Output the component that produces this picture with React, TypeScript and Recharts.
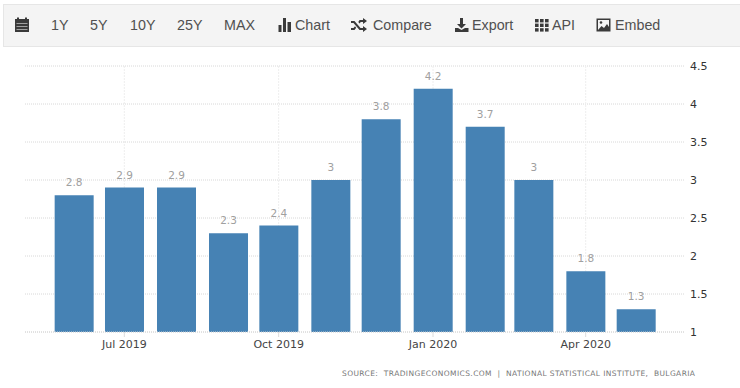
import { Bar, BarChart, CartesianGrid, LabelList, XAxis, YAxis } from "recharts";

const MONTHS = [
  "2019-06-01",
  "2019-07-01",
  "2019-08-01",
  "2019-09-01",
  "2019-10-01",
  "2019-11-01",
  "2019-12-01",
  "2020-01-01",
  "2020-02-01",
  "2020-03-01",
  "2020-04-01",
  "2020-05-01",
];
const VALUES = [2.8, 2.9, 2.9, 2.3, 2.4, 3, 3.8, 4.2, 3.7, 3, 1.8, 1.3];
const X_TICKS = ["2019-07-01", "2019-10-01", "2020-01-01", "2020-04-01"];
const X_TICK_LABELS = ["Jul 2019", "Oct 2019", "Jan 2020", "Apr 2020"];
const Y_TICKS = [1, 1.5, 2, 2.5, 3, 3.5, 4, 4.5];
const RANGES = ["1Y", "5Y", "10Y", "25Y", "MAX"];
const RANGE_LEFTS = [51, 90, 130, 177, 224];
const SOURCE = "SOURCE:  TRADINGECONOMICS.COM  |  NATIONAL STATISTICAL INSTITUTE,  BULGARIA";

const DAY = 86400000;
const toTime = (d: string) => new Date(d + "T00:00:00Z").getTime();
const chartData = MONTHS.map((m, i) => ({ time: toTime(m), value: VALUES[i] }));
const xTicks = X_TICKS.map(toTime);
const xDomain = [toTime(MONTHS[0]) - 29.2 * DAY, toTime(MONTHS[MONTHS.length - 1]) + 29.2 * DAY];

const BLUE = "#4682b4";
const ICON = "#3a3a3a";

function ToolbarItem({ left, children }: { left: number; children: React.ReactNode }) {
  return <span style={{ position: "absolute", left, top: 17 }}>{children}</span>;
}

function Icon({ left, children }: { left: number; children: React.ReactNode }) {
  return (
    <svg
      width={16}
      height={16}
      viewBox="0 0 16 16"
      style={{ position: "absolute", left, top: 17 }}
      fill={ICON}
    >
      {children}
    </svg>
  );
}

function Toolbar() {
  return (
    <div
      style={{
        position: "absolute",
        left: 3,
        top: 4,
        width: 737,
        height: 43,
        boxSizing: "border-box",
        background: "#f4f4f4",
        borderTop: "1px solid #e6e6e6",
        borderBottom: "1px solid #e6e6e6",
        borderLeft: "1px solid #e6e6e6",
        color: "#505050",
        fontFamily: "'Liberation Sans', Arial, sans-serif",
        fontSize: 14.3,
        lineHeight: "17px",
      }}
    >
      <div style={{ position: "absolute", left: -4, top: -5, width: 740, height: 46 }}>
        <Icon left={14}>
          <rect x="1" y="2" width="14" height="13" />
          <rect x="3" y="0.5" width="2" height="3" />
          <rect x="11" y="0.5" width="2" height="3" />
          <rect x="2.5" y="6" width="11" height="0.8" fill="#bbb" />
          <rect x="2.5" y="9" width="11" height="0.8" fill="#bbb" />
          <rect x="2.5" y="12" width="11" height="0.8" fill="#bbb" />
        </Icon>
        {RANGES.map((r, i) => (
          <ToolbarItem key={r} left={RANGE_LEFTS[i]}>
            {r}
          </ToolbarItem>
        ))}
        <Icon left={278}>
          <rect x="0.5" y="8" width="3" height="7" />
          <rect x="5" y="1" width="3" height="14" />
          <rect x="9.5" y="5" width="3.5" height="10" />
        </Icon>
        <ToolbarItem left={295}>Chart</ToolbarItem>
        <Icon left={351}>
          <path d="M0 4h3.5l6 7H12V9l4 3-4 3v-2H8.5l-6-7H0zM12 1l4 3-4 3V5H9.8L8.5 6.5 7.3 5 8.6 3H12zM0 11h2.5L4 9.3l1.2 1.5L3.5 13H0z" />
        </Icon>
        <ToolbarItem left={373}>Compare</ToolbarItem>
        <Icon left={454}>
          <path d="M6 1h3v6h3l-4.5 4.5L3 7h3zM1 11h3l3.5 2L11 11h3.5v4H1z" />
        </Icon>
        <ToolbarItem left={472}>Export</ToolbarItem>
        <Icon left={534}>
          <rect x="1" y="2" width="3.6" height="3.4" />
          <rect x="6" y="2" width="3.6" height="3.4" />
          <rect x="11" y="2" width="3.6" height="3.4" />
          <rect x="1" y="6.6" width="3.6" height="3.4" />
          <rect x="6" y="6.6" width="3.6" height="3.4" />
          <rect x="11" y="6.6" width="3.6" height="3.4" />
          <rect x="1" y="11.2" width="3.6" height="3.4" />
          <rect x="6" y="11.2" width="3.6" height="3.4" />
          <rect x="11" y="11.2" width="3.6" height="3.4" />
        </Icon>
        <ToolbarItem left={552}>API</ToolbarItem>
        <Icon left={596}>
          <rect x="0.5" y="1.5" width="14" height="13" />
          <rect x="2" y="3" width="11" height="10" fill="#f4f4f4" />
          <path d="M2 13l3.5-4 2.5 2 3-4 2 3v3z" />
          <circle cx="5" cy="5.5" r="1.3" />
        </Icon>
        <ToolbarItem left={615}>Embed</ToolbarItem>
      </div>
    </div>
  );
}

export default function App() {
  return (
    <div style={{ position: "absolute", left: 0, top: 0, width: 740, height: 388, background: "#fff", overflow: "hidden" }}>
      <Toolbar />
      <BarChart
        width={740}
        height={388}
        data={chartData}
        margin={{ top: 66, right: 0, left: 25, bottom: 26 }}
        style={{ position: "absolute", left: 0, top: 0 }}
      >
        <CartesianGrid vertical={false} stroke="#d8d8d8" strokeDasharray="1 1" />
        <CartesianGrid horizontal={false} stroke="#eeeeee" strokeDasharray="2 1" syncWithTicks />
        <XAxis
          dataKey="time"
          type="number"
          scale="time"
          domain={xDomain}
          ticks={xTicks}
          height={30}
          tickFormatter={(t: number) => X_TICK_LABELS[xTicks.indexOf(t)]}
          tick={{ fontSize: 11, fill: "#444", fontFamily: "'DejaVu Sans', sans-serif" }}
          tickLine={{ stroke: "#dcdcdc" }}
          tickSize={5}
          tickMargin={3}
          axisLine={{ stroke: "#d8d8d8", strokeDasharray: "1 1" }}
          interval={0}
        />
        <YAxis
          orientation="right"
          type="number"
          domain={[1, 4.5]}
          ticks={Y_TICKS}
          width={55}
          tick={{ fontSize: 11, fill: "#333", fontFamily: "'DejaVu Sans', sans-serif", textAnchor: "start" }}
          tickLine={false}
          axisLine={false}
          tickMargin={-1}
          interval={0}
        />
        <Bar dataKey="value" fill={BLUE} barSize={39} isAnimationActive={false}>
          <LabelList
            dataKey="value"
            position="top"
            offset={9}
            style={{ fontSize: 10.5, fill: "#a0a0a0", fontFamily: "'DejaVu Sans', sans-serif" }}
          />
        </Bar>
      </BarChart>
      <div
        style={{
          position: "absolute",
          left: 342,
          top: 369,
          fontSize: 7.5,
          color: "#777",
          fontFamily: "'DejaVu Sans', sans-serif",
          whiteSpace: "pre",
          letterSpacing: 0.4,
        }}
      >
        {SOURCE}
      </div>
    </div>
  );
}
